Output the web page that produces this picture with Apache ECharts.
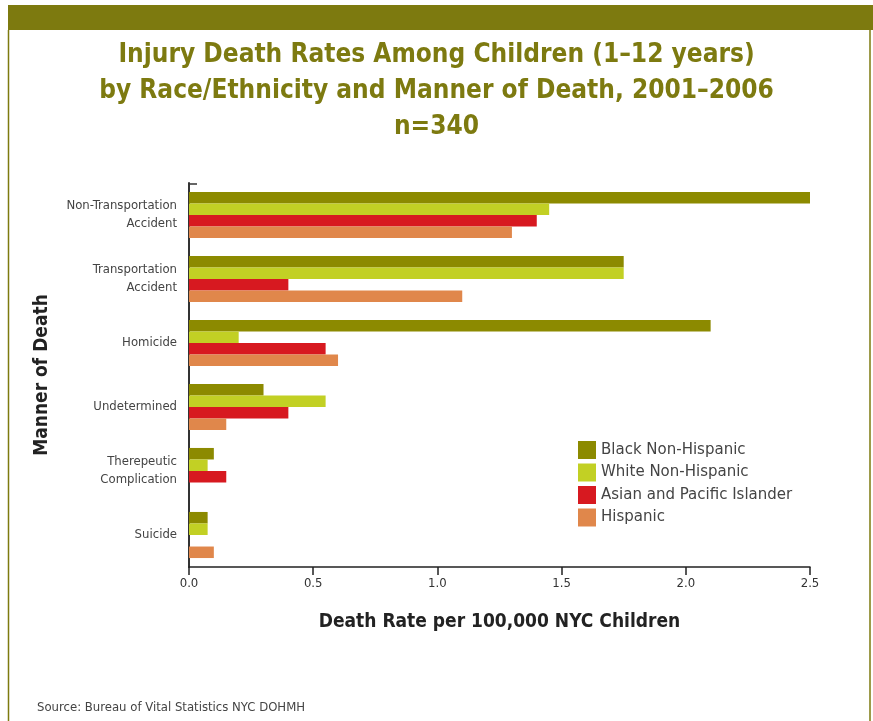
<!DOCTYPE html>
<html>
<head>
<meta charset="utf-8">
<script src="https://cdn.jsdelivr.net/npm/echarts@6/dist/echarts.min.js"></script>
<style>
  html, body { margin: 0; padding: 0; background: #fff; }
  #main { width: 873px; height: 721px; }
</style>
</head>
<body>
<div id="main"></div>
<script>
var categories = ['Non-Transportation\nAccident', 'Transportation\nAccident', 'Homicide', 'Undetermined', 'Therepeutic\nComplication', 'Suicide'];
var seriesNames = ['Black Non-Hispanic', 'White Non-Hispanic', 'Asian and Pacific Islander', 'Hispanic'];
var black = [2.5, 1.75, 2.1, 0.3, 0.1, 0.075];
var white = [1.45, 1.75, 0.2, 0.55, 0.075, 0.075];
var asian = [1.4, 0.4, 0.55, 0.4, 0.15, 0];
var hispanic = [1.3, 1.1, 0.6, 0.15, 0, 0.1];
var xTicks = [0, 0.5, 1.0, 1.5, 2.0, 2.5];

var colors = ['#8c8a00', '#c2d024', '#d71920', '#e0874b'];
var narrow = "'Liberation Sans Narrow', 'DejaVu Sans Condensed', sans-serif";

var dom = document.getElementById('main');
var myChart = echarts.init(dom);
var values = [black, white, asian, hispanic];

option = {
  animation: false,
  color: colors,
  title: {
    text: 'Injury Death Rates Among Children (1–12 years)\nby Race/Ethnicity and Manner of Death, 2001–2006\nn=340',
    left: 'center',
    top: 32,
    textStyle: {
      fontFamily: narrow,
      fontWeight: 'bold',
      fontSize: 26,
      lineHeight: 36,
      color: '#7d7a10'
    }
  },
  legend: {
    orient: 'vertical',
    left: 573,
    top: 436,
    itemWidth: 18,
    itemHeight: 18,
    itemGap: 4.5,
    icon: 'rect',
    data: seriesNames,
    textStyle: { fontSize: 15, color: '#444', fontFamily: 'DejaVu Sans, sans-serif' }
  },
  grid: { left: 189, right: 63, top: 183, bottom: 154 },
  xAxis: {
    type: 'value',
    min: 0,
    max: xTicks[xTicks.length - 1],
    interval: 0.5,
    name: 'Death Rate per 100,000 NYC Children',
    nameLocation: 'middle',
    nameGap: 46,
    nameTextStyle: { fontFamily: narrow, fontWeight: 'bold', fontSize: 19, color: '#222' },
    splitLine: { show: false },
    axisLine: { show: true, lineStyle: { color: '#222', width: 1.5 } },
    axisTick: { show: true, length: 8, lineStyle: { color: '#222', width: 1.5 } },
    axisLabel: {
      color: '#333', fontSize: 13, fontFamily: narrow, margin: 10,
      formatter: function (v) { return v.toFixed(1); }
    }
  },
  yAxis: {
    type: 'category',
    inverse: true,
    data: categories,
    name: 'Manner of Death',
    nameLocation: 'middle',
    nameGap: 137,
    nameRotate: 90,
    nameTextStyle: { fontFamily: narrow, fontWeight: 'bold', fontSize: 19, color: '#222' },
    axisLine: { show: true, lineStyle: { color: '#333', width: 2 } },
    axisTick: { show: false },
    axisLabel: {
      color: '#444', fontSize: 13, fontFamily: narrow, margin: 12,
      lineHeight: 18, align: 'right'
    }
  },
  series: seriesNames.map(function (name, i) {
    return {
      name: name,
      type: 'bar',
      barGap: '0%',
      barCategoryGap: '28%',
      data: values[i]
    };
  }),
  graphic: [
    { type: 'rect', shape: { x: 8, y: 5, width: 865, height: 25 }, style: { fill: '#7d7a0f' } },
    { type: 'line', shape: { x1: 8.5, y1: 30, x2: 8.5, y2: 721 }, style: { stroke: '#7d7a0f', lineWidth: 1.5 } },
    { type: 'line', shape: { x1: 870, y1: 30, x2: 870, y2: 721 }, style: { stroke: '#7d7a0f', lineWidth: 1.5 } },
    { type: 'line', shape: { x1: 189, y1: 184, x2: 197, y2: 184 }, style: { stroke: '#333', lineWidth: 1.5 } },
    {
      type: 'text', left: 37, top: 701,
      style: { text: 'Source: Bureau of Vital Statistics NYC DOHMH', fontSize: 13, fill: '#444', fontFamily: narrow }
    }
  ]
};

if (option && typeof option === 'object') {
  myChart.setOption(option);
}
</script>
</body>
</html>
